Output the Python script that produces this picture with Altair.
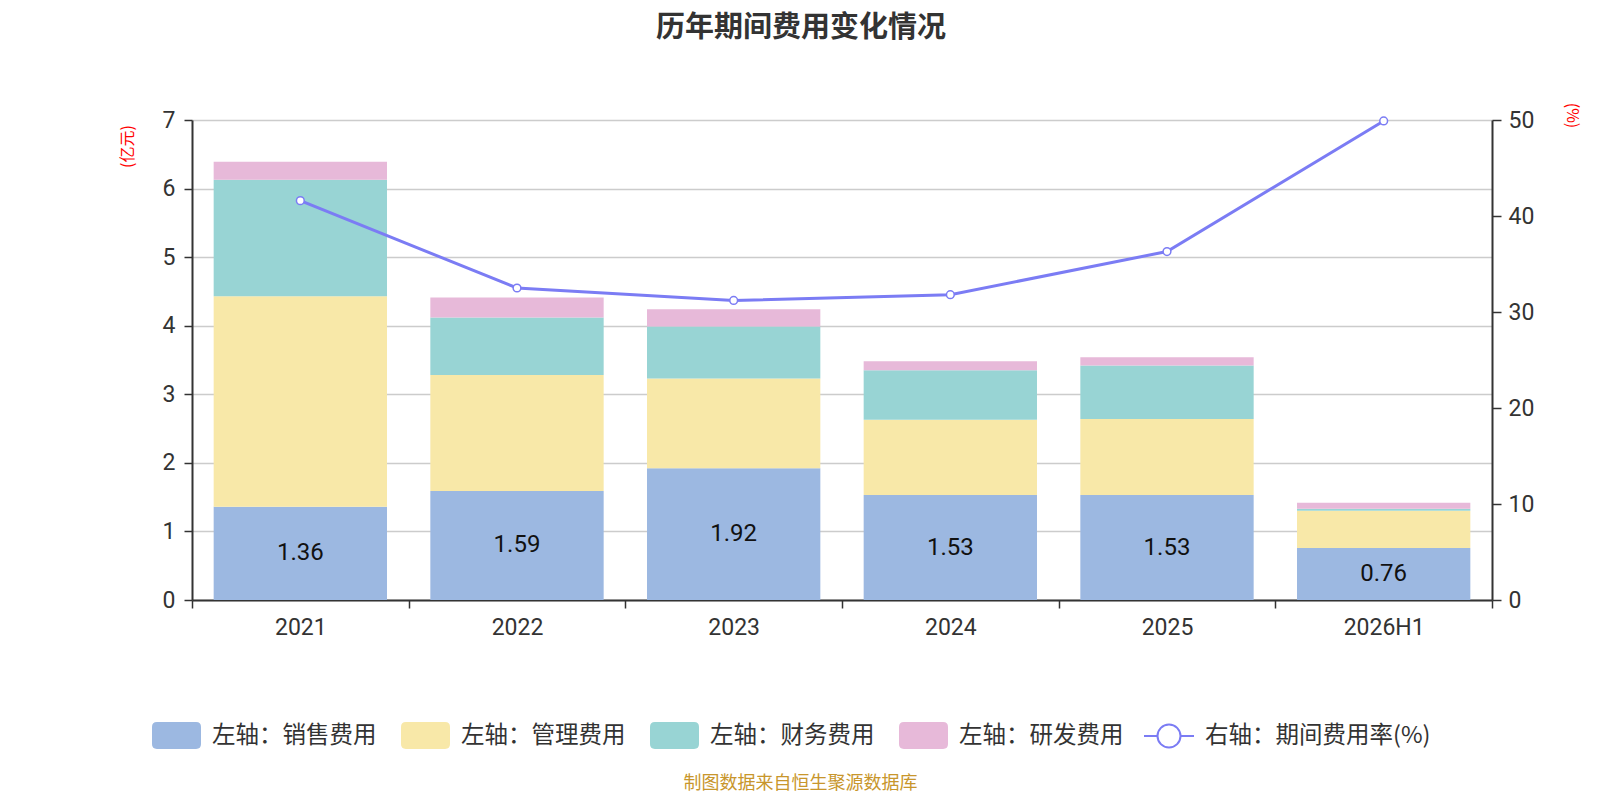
import altair as alt
import pandas as pd

years = ["2021", "2022", "2023", "2024", "2025", "2026H1"]
sales = [1.36, 1.59, 1.92, 1.53, 1.53, 0.76]
mgmt = [3.07, 1.69, 1.31, 1.10, 1.11, 0.54]
fin = [1.70, 0.84, 0.76, 0.72, 0.78, 0.03]
rd = [0.26, 0.29, 0.25, 0.13, 0.12, 0.09]
rate = [41.6, 32.5, 31.2, 31.8, 36.3, 49.9]

series_names = ["左轴：销售费用", "左轴：管理费用", "左轴：财务费用", "左轴：研发费用"]
series_colors = ["#9cb8e1", "#f8e8a8", "#98d4d4", "#e7b9d9"]
line_name = "右轴：期间费用率(%)"
line_color = "#7b7cf4"

rows = []
for i, y in enumerate(years):
    for k, (name, vals) in enumerate(zip(series_names, [sales, mgmt, fin, rd])):
        rows.append({"year": y, "series": name, "value": vals[i], "idx": k})
bar_df = pd.DataFrame(rows)
label_df = pd.DataFrame({"year": years, "sales": sales})
line_df = pd.DataFrame({"year": years, "rate": rate, "name": [line_name] * len(years)})

FONT_CN = "Noto Sans CJK SC"
FONT_NUM = "Roboto"

rrect = ("M-0.8,-0.55 L0.8,-0.55 Q1,-0.55 1,-0.35 L1,0.35 Q1,0.55 0.8,0.55 "
         "L-0.8,0.55 Q-1,0.55 -1,0.35 L-1,-0.35 Q-1,-0.55 -0.8,-0.55 Z")
line_sym = ("M-1,0 L-0.46,0 M0.46,0 A0.46,0.46 0 1,1 -0.46,0 "
            "A0.46,0.46 0 1,1 0.46,0 L1,0")

x_axis = alt.Axis(
    title="制图数据来自恒生聚源数据库",
    titleColor="#c8962c",
    titleFont=FONT_CN,
    titleFontSize=18,
    titleFontWeight="normal",
    titleX=608,
    titleY=183,
    titleBaseline="middle",
    labelAngle=0,
    labelFont=FONT_NUM,
    labelFontSize=23,
    labelColor="#333333",
    labelPadding=8,
    tickBand="extent",
    tickSize=8,
    tickColor="#333333",
    tickWidth=1.5,
    domainColor="#333333",
    domainWidth=2,
)
x_scale = alt.Scale(paddingInner=0, paddingOuter=0)

left_axis = alt.Axis(
    title="(亿元)",
    titleColor="red",
    titleFont=FONT_CN,
    titleFontSize=16,
    titleFontWeight="normal",
    titleX=-65,
    titleY=26,
    titleAlign="center",
    titleBaseline="middle",
    values=[0, 1, 2, 3, 4, 5, 6, 7],
    labelFont=FONT_NUM,
    labelFontSize=23,
    labelColor="#333333",
    labelPadding=9,
    tickSize=8,
    tickColor="#333333",
    tickWidth=1.5,
    domainColor="#333333",
    domainWidth=2,
    grid=True,
    gridColor="#cccccc",
    gridWidth=1.5,
)
left_scale = alt.Scale(domain=[0, 7], nice=False)

bars = alt.Chart(bar_df).mark_bar(width={"band": 0.8}).encode(
    x=alt.X("year:N", sort=years, scale=x_scale, axis=x_axis),
    y=alt.Y("sum(value):Q", stack="zero", scale=left_scale, axis=left_axis),
    color=alt.Color(
        "series:N",
        scale=alt.Scale(domain=series_names, range=series_colors),
        legend=alt.Legend(
            title=None,
            orient="none",
            direction="horizontal",
            legendX=-40,
            legendY=591,
            symbolType=rrect,
            symbolSize=2401,
            symbolStrokeWidth=0,
            symbolOpacity=1,
            labelFont=FONT_CN,
            labelFontSize=23.5,
            labelColor="#333333",
            labelOffset=11,
            columnPadding=24,
            labelLimit=400,
        ),
    ),
    order=alt.Order("idx:Q", sort="ascending"),
)

labels = alt.Chart(label_df).transform_calculate(
    mid="datum.sales / 2"
).mark_text(font=FONT_NUM, fontSize=24, color="#111111").encode(
    x=alt.X("year:N", sort=years, scale=x_scale, axis=x_axis),
    y=alt.Y("mid:Q", scale=left_scale, axis=left_axis),
    text=alt.Text("sales:Q", format=".2f"),
)

line = alt.Chart(line_df).mark_line(
    strokeWidth=3,
    point=alt.OverlayMarkDef(filled=True, fill="white", size=60, strokeWidth=1.5),
).encode(
    x=alt.X("year:N", sort=years, scale=x_scale, axis=x_axis),
    y=alt.Y(
        "rate:Q",
        scale=alt.Scale(domain=[0, 50], nice=False),
        axis=alt.Axis(
            orient="right",
            title="(%)",
            titleColor="red",
            titleFont=FONT_CN,
            titleFontSize=16,
            titleFontWeight="normal",
            titleX=79,
            titleY=-5,
            titleAlign="center",
            titleBaseline="middle",
            values=[0, 10, 20, 30, 40, 50],
            labelFont=FONT_NUM,
            labelFontSize=23,
            labelColor="#333333",
            labelPadding=7,
            tickSize=9,
            tickColor="#333333",
            tickWidth=1.5,
            domainColor="#333333",
            domainWidth=2,
            grid=False,
        ),
    ),
    stroke=alt.Stroke(
        "name:N",
        scale=alt.Scale(domain=[line_name], range=[line_color]),
        legend=alt.Legend(
            title=None,
            orient="none",
            legendX=951,
            legendY=590,
            symbolType=line_sym,
            symbolSize=2500,
            symbolStrokeWidth=2,
            symbolFillColor="white",
            labelFont=FONT_CN,
            labelFontSize=23.5,
            labelColor="#333333",
            labelOffset=10,
            labelLimit=400,
        ),
    ),
)

chart = alt.layer(alt.layer(bars, labels), line).resolve_scale(
    y="independent"
).properties(
    width=1300,
    height=480,
    padding={"left": 184, "top": 112, "right": 100, "bottom": 192},
    autosize=alt.AutoSizeParams(type="none"),
    title=alt.TitleParams(
        text="历年期间费用变化情况",
        font=FONT_CN,
        fontSize=29,
        fontWeight="bold",
        color="#333333",
        frame="group",
        anchor="middle",
        offset=59,
        dx=-41,
    ),
).configure_view(stroke=None)

chart.save("out.html", embed_options={"renderer": "svg", "actions": False})
